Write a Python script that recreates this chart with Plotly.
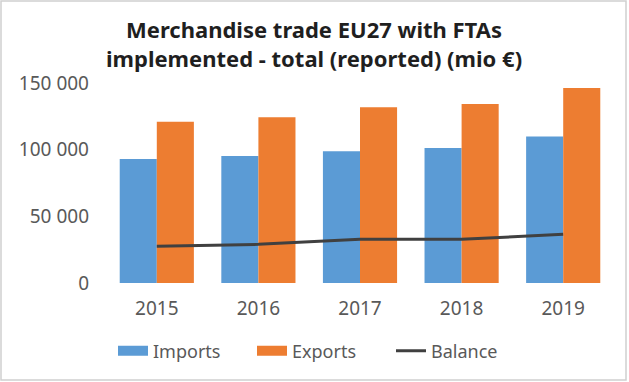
import plotly.graph_objects as go

years = ["2015", "2016", "2017", "2018", "2019"]
imports = [93000, 95300, 98800, 101300, 109800]
exports = [121000, 124300, 131800, 134300, 146300]
balance = [27500, 29000, 32800, 32800, 36500]
y_ticks = [0, 50000, 100000, 150000]
y_tick_labels = ["0", "50 000", "100 000", "150 000"]

W, H = 629, 382
L, R, T, B = 106, 15, 83, 99
pw, ph = W - L - R, H - T - B

FONT = "Noto Sans"
GREY = "#595959"
BLUE, ORANGE, DARK = "#5B9BD5", "#ED7D31", "#404040"

fig = go.Figure()
fig.add_trace(go.Bar(x=years, y=imports, name="Imports", showlegend=False,
                     marker=dict(color=BLUE, line=dict(width=0))))
fig.add_trace(go.Bar(x=years, y=exports, name="Exports", showlegend=False,
                     marker=dict(color=ORANGE, line=dict(width=0))))
fig.add_trace(go.Scatter(x=years, y=balance, name="Balance", mode="lines", showlegend=False,
                         line=dict(color=DARK, width=3)))

# legend-only entries (wide rectangular swatches like the reference)
for nm, col, w in [("Imports", BLUE, 11), ("Exports", ORANGE, 11), ("Balance", DARK, 3)]:
    fig.add_trace(go.Scatter(x=[None], y=[None], name=nm, mode="lines",
                             line=dict(color=col, width=w), hoverinfo="skip"))

def px(x):
    return (x - L) / pw

def py(y):
    return 1 - (y - T) / ph

fig.add_shape(type="rect", xref="paper", yref="paper",
              x0=px(1), x1=px(626), y0=py(380), y1=py(1),
              line=dict(color="#d0d0d0", width=1.5), fillcolor="rgba(0,0,0,0)", layer="below")

fig.add_annotation(text="<b>Merchandise trade EU27 with FTAs<br>implemented - total (reported) (mio €)</b>",
                   xref="paper", yref="paper", x=px(314), y=py(44), xanchor="center", yanchor="middle",
                   showarrow=False, align="center",
                   font=dict(family=FONT, size=22, color="#1f1f1f"))

fig.update_layout(
    width=W, height=H,
    margin=dict(l=L, r=R, t=T, b=B, autoexpand=False),
    paper_bgcolor="white", plot_bgcolor="white",
    barmode="group", bargap=0.27, bargroupgap=0,
    font=dict(family=FONT, color=GREY, size=18),
    xaxis=dict(showgrid=False, showline=False, zeroline=False, ticks="", automargin=False,
               tickfont=dict(size=19, color=GREY), ticklabelstandoff=12),
    yaxis=dict(range=[0, 150000], tickvals=y_ticks, ticktext=y_tick_labels, automargin=False,
               showgrid=False, showline=False, zeroline=False, ticks="",
               tickfont=dict(size=19, color=GREY), ticklabelstandoff=16),
    legend=dict(orientation="h", xref="paper", x=px(113), xanchor="left",
                yref="paper", y=py(351), yanchor="middle",
                font=dict(size=18, color=GREY), traceorder="normal",
                entrywidth=94, entrywidthmode="pixels"),
    showlegend=True,
)

fig.write_html("out.html", post_script="document.body.style.margin='0';",
               config={"displayModeBar": False})
